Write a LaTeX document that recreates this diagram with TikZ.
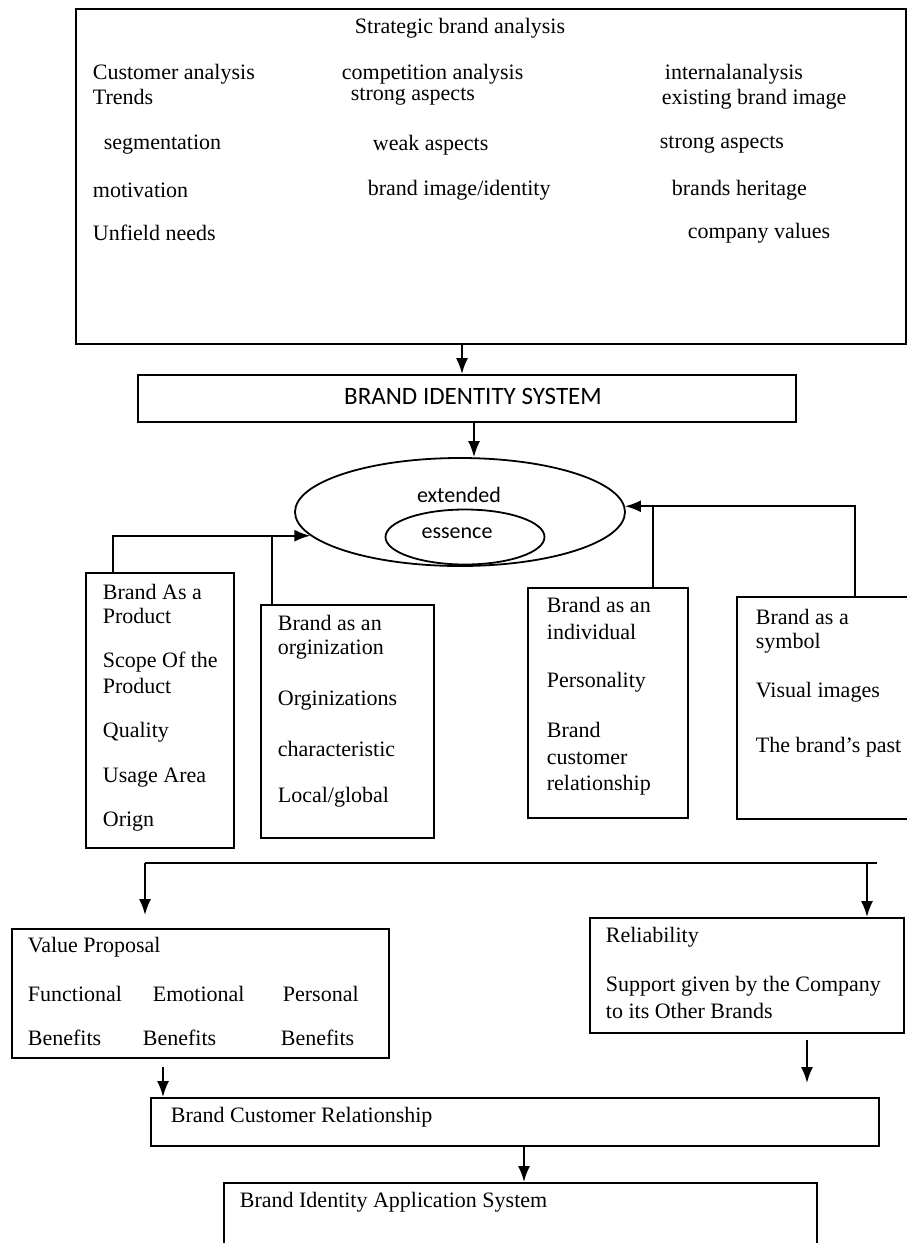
\documentclass[tikz,border=0pt]{standalone}
\usepackage{fontspec}
\setmainfont{Liberation Serif}
\newfontfamily\calfont{Carlito}
\usetikzlibrary{arrows.meta,shapes.geometric}
\newcommand{\tm}{\fontsize{22}{25}\selectfont}
\newcommand{\cf}{\calfont\fontsize{22}{25}\selectfont}

\begin{document}
\begin{tikzpicture}[x=1pt, y=-1pt, line width=1.8pt,
	box/.style={draw, inner sep=0pt, anchor=north west},
	txt/.style={anchor=west, inner sep=0pt, font=\tm},
	arr/.style={-{Latex[length=16pt,width=12pt]}}]
	\useasboundingbox (0,0) rectangle (907,1243);

	% strategic brand analysis
	\node[box, minimum width=830pt, minimum height=335pt] (sba) at (75,8) {};
	\node[font=\tm, inner sep=0pt] (sbaT) at (460,28) {Strategic brand analysis};
	\foreach \x/\y/\lab [count=\i] in {92/74/Customer analysis, 92/97/Trends, 103/145/segmentation, 92/190/motivation, 92/233/Unfield needs,
		341/74/competition analysis, 350/97/strong aspects, 372/145/weak aspects, 367/190/{brand image/identity},
		664/74/internalanalysis, 661/99/existing brand image, 659/145/strong aspects, 671/190/brands heritage, 687/233/company values} {
		\node[txt] (sa\i) at (\x,\y) {\lab};
	}

	% identity system and core
	\node[box, minimum width=658pt, minimum height=47pt] (bis) at (137,374) {};
	\node[font=\calfont\fontsize{25}{28}\selectfont, inner sep=0pt] (bisT) at (473,396) {BRAND IDENTITY SYSTEM};
	\node[draw, ellipse, inner sep=0pt, minimum width=330pt, minimum height=108pt] (ext) at (460,512) {};
	\node[draw, ellipse, inner sep=0pt, minimum width=159pt, minimum height=55pt] (ess) at (465,537) {};
	\node[font=\cf, inner sep=0pt] (extT) at (459,495) {extended};
	\node[font=\cf, inner sep=0pt] (essT) at (457,533) {essence};

	% the four perspectives
	\node[box, minimum width=148pt, minimum height=275pt] (p1) at (85,572) {};
	\node[box, minimum width=173pt, minimum height=233pt] (p2) at (260,604) {};
	\node[box, minimum width=160pt, minimum height=230pt] (p3) at (527,587) {};
	\node[box, minimum width=200pt, minimum height=222pt] (p4) at (736,596) {};
	\foreach \y/\lab [count=\i] in {592/Brand As a, 616/Product, 662/Scope Of the, 686/Product, 732/Quality, 778/Usage Area, 822/Orign}
		\node[txt] (pa\i) at (102,\y) {\lab};
	\foreach \y/\lab [count=\i] in {623/Brand as an, 650/orginization, 701/Orginizations, 749/characteristic, 797/{Local/global}}
		\node[txt] (pb\i) at (277,\y) {\lab};
	\foreach \y/\lab [count=\i] in {605/Brand as an, 632/individual, 682/Personality, 730/Brand, 758/customer, 785/relationship}
		\node[txt] (pc\i) at (546,\y) {\lab};
	\foreach \y/\lab [count=\i] in {617/Brand as a, 643/symbol, 692/Visual images, 747/The brand’s past}
		\node[txt] (pd\i) at (755,\y) {\lab};

	% value proposal and reliability
	\node[box, minimum width=377pt, minimum height=129pt] (vp) at (11,928) {};
	\node[box, minimum width=314pt, minimum height=115pt] (rel) at (589,917) {};
	\foreach \x/\y/\lab [count=\i] in {27/947/Value Proposal, 27/994/Functional, 152/994/Emotional, 282/994/Personal,
		27/1038/Benefits, 142/1038/Benefits, 280/1038/Benefits}
		\node[txt] (vp\i) at (\x,\y) {\lab};
	\foreach \y/\lab [count=\i] in {937/Reliability, 986/Support given by the Company, 1011/to its Other Brands}
		\node[txt] (rl\i) at (605,\y) {\lab};

	% relationship and application
	\node[box, minimum width=728pt, minimum height=48pt] (bcr) at (150,1097) {};
	\node[txt] (bcrT) at (170,1117) {Brand Customer Relationship};
	\node[box, minimum width=593pt, minimum height=100pt] (bias) at (223,1182) {};
	\node[txt] (biasT) at (239,1202) {Brand Identity Application System};

	% connectors
	\draw[arr] (462,0 |- sba.south) -- (462,0 |- bis.north);
	\draw[arr] (474,0 |- bis.south) -- (474,0 |- ext.north);
	\draw[arr] (113,0 |- p1.north) |- (ext.189);
	\draw (272,0 |- p2.north) -- (272,0 |- ext.189);
	\draw[arr] (855,0 |- p4.north) |- (ext.2);
	\draw (653,0 |- p3.north) -- (653,0 |- ext.2);

	\coordinate (busL) at (145,863);
	\coordinate (busR) at (877,863);
	\coordinate (vpIn) at (145,915);
	\draw (busL) -- (busR);
	\draw[arr] (busL) -- (vpIn);
	\draw[arr] (867,0 |- busR) -- (867,0 |- rel.north);

	\coordinate (vpOut) at (163,1067);
	\coordinate (relOut) at (807,1040);
	\coordinate (relEnd) at (807,1083);
	\draw[arr] (vpOut) -- (163,0 |- bcr.north);
	\draw[arr] (relOut) -- (relEnd);
	\draw[arr] (524,0 |- bcr.south) -- (524,0 |- bias.north);
\end{tikzpicture}
\end{document}
